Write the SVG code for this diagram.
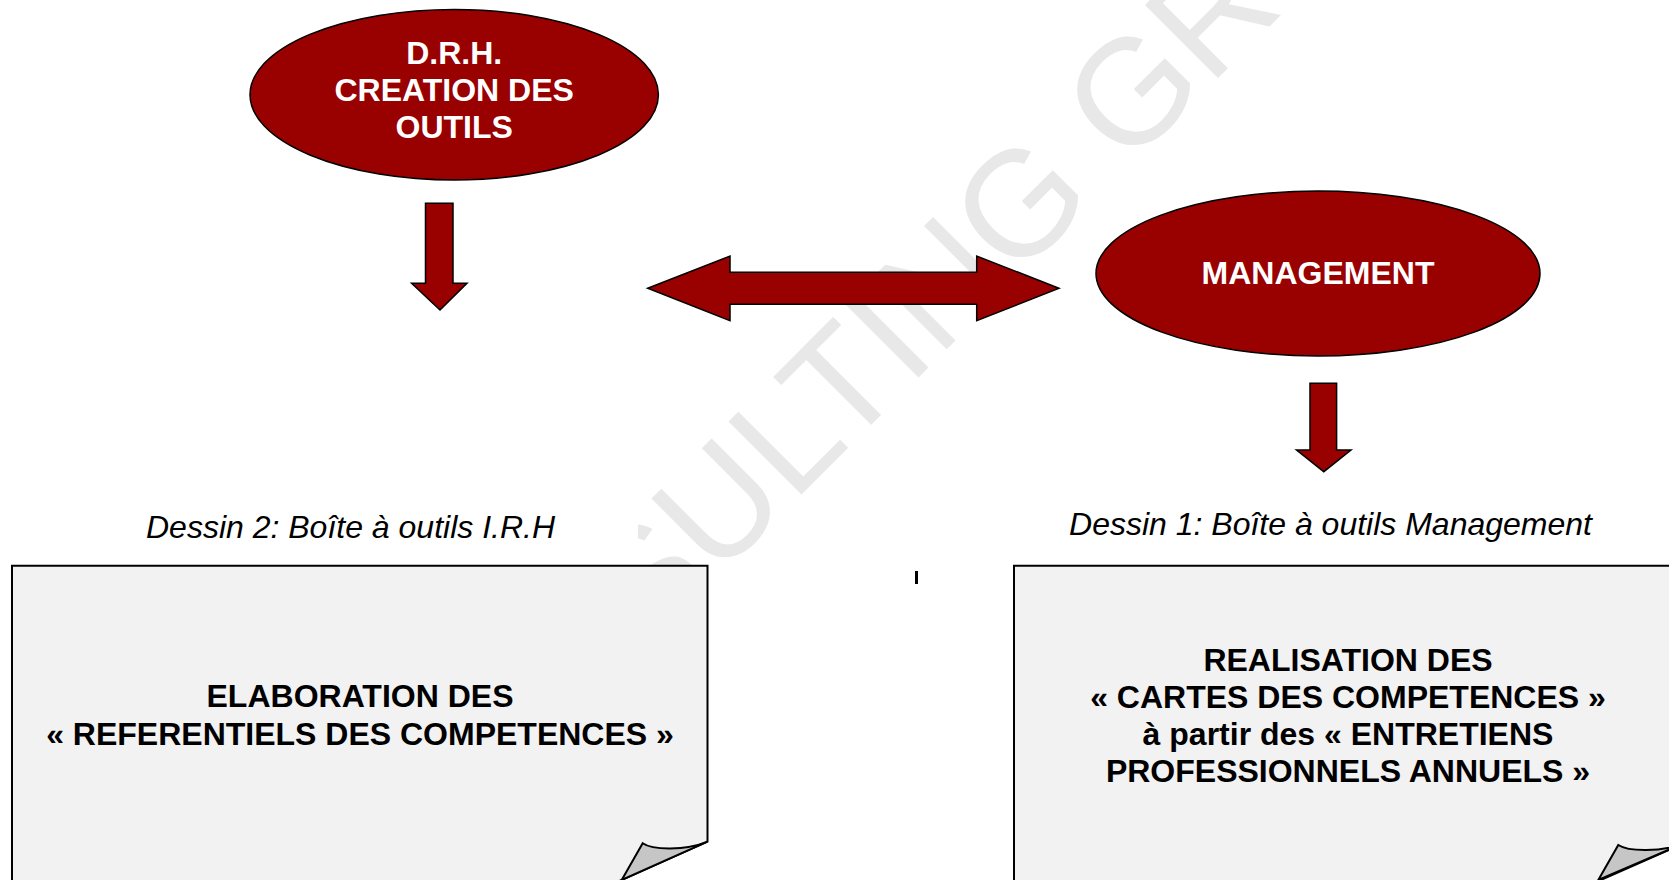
<svg xmlns="http://www.w3.org/2000/svg" width="1669" height="880" viewBox="0 0 1669 880">
  <style>
    .shape { fill: #990000; stroke: #000000; stroke-width: 1.5; stroke-linejoin: miter; }
    .box { fill: #f2f2f2; stroke: #000000; stroke-width: 2; }
    .flap { fill: #c6c6c6; stroke: #000000; stroke-width: 2; stroke-linejoin: miter; }
    .wt { font-family: "Liberation Sans", Arial, sans-serif; font-weight: bold; font-size: 32px; fill: #ffffff; text-anchor: middle; }
    .bt { font-family: "Liberation Sans", Arial, sans-serif; font-weight: bold; font-size: 32px; fill: #000000; text-anchor: middle; }
    .cap { font-family: "Liberation Sans", Arial, sans-serif; font-style: italic; font-size: 32px; fill: #000000; text-anchor: middle; }
    .wm { font-family: "Liberation Sans", Arial, sans-serif; font-size: 150px; fill: #e8e8e8; }
  </style>
  <rect x="0" y="0" width="1669" height="880" fill="#ffffff"/>

  <g id="watermark">
    <text class="wm" x="645.4" y="650.6" transform="rotate(-45 645.4 650.6)">SULTING GR</text>
  </g>

  <g id="node-drh">
    <ellipse class="shape" cx="454.2" cy="94.7" rx="204.2" ry="85.3"/>
    <text class="wt" x="454.2" y="64">D.R.H.</text>
    <text class="wt" x="454.2" y="101">CREATION DES</text>
    <text class="wt" x="454.2" y="138">OUTILS</text>
  </g>

  <g id="node-management">
    <ellipse class="shape" cx="1318" cy="273.5" rx="222" ry="82.5"/>
    <text class="wt" x="1318" y="284">MANAGEMENT</text>
  </g>

  <g id="connectors">
    <path class="shape" d="M425.5,203.3 H453 V283.3 H467 L440,310 L411.6,283.3 H425.5 Z"/>
    <path class="shape" d="M647.7,288.3 L730,256 V272.3 H976.7 V256 L1059,288.3 L976.7,320.7 V304.3 H730 V320.7 Z"/>
    <path class="shape" d="M1310,383.3 H1336.6 V450 H1351 L1323.8,471.7 L1296.5,450 H1310 Z"/>
  </g>

  <g id="caption-left">
    <rect x="60" y="500" width="578" height="66" fill="#ffffff"/>
    <text class="cap" x="350.5" y="538">Dessin 2: Boîte à outils I.R.H</text>
  </g>
  <g id="caption-right">
    <text class="cap" x="1330.5" y="535">Dessin 1: Boîte à outils Management</text>
  </g>

  <g id="mark">
    <rect x="915" y="571" width="3" height="13" fill="#000000"/>
  </g>

  <g id="node-referentiels">
    <path class="box" d="M12,565.7 H707.5 V841.7 L599,890 H12 Z"/>
    <path class="flap" d="M642.7,843.3 C652,850 685,851 707.5,841.7 L621.7,880 Z"/>
    <text class="bt" x="360" y="707">ELABORATION DES</text>
    <text class="bt" x="360" y="745">« REFERENTIELS DES COMPETENCES »</text>
  </g>

  <g id="node-cartes">
    <path class="box" d="M1014,565.7 H1684 V843.2 L1576,891 H1014 Z"/>
    <path class="flap" d="M1618.3,845 C1628,851.5 1661,852.5 1684,843.2 L1598.3,880 Z"/>
    <text class="bt" x="1348" y="671">REALISATION DES</text>
    <text class="bt" x="1348" y="708">« CARTES DES COMPETENCES »</text>
    <text class="bt" x="1348" y="745">à partir des « ENTRETIENS</text>
    <text class="bt" x="1348" y="782">PROFESSIONNELS ANNUELS »</text>
  </g>
</svg>
